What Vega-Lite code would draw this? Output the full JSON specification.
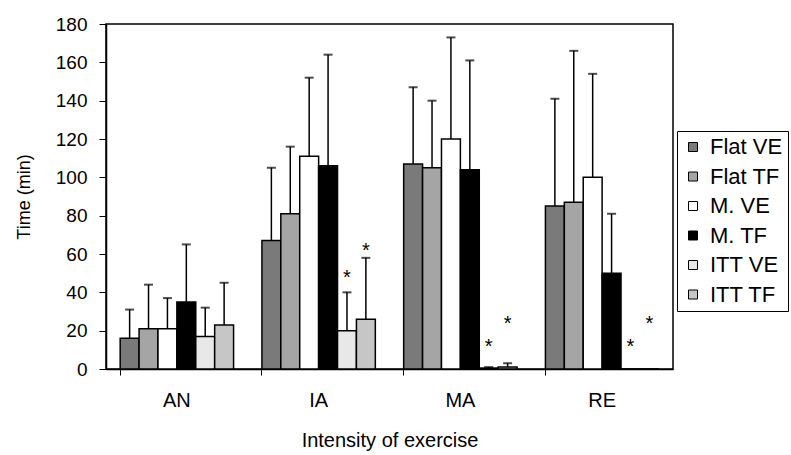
{
  "$schema": "https://vega.github.io/schema/vega-lite/v6.json",
  "width": 567,
  "height": 345,
  "autosize": "none",
  "padding": {"left": 106, "top": 24, "right": 118, "bottom": 86},
  "background": "white",
  "config": {
    "view": {"stroke": "black", "strokeWidth": 1.5},
    "font": "Liberation Sans"
  },
  "data": {
    "values": [
      {"group": "AN", "series": "Flat VE", "value": 16, "hi": 31},
      {"group": "AN", "series": "Flat TF", "value": 21, "hi": 44},
      {"group": "AN", "series": "M. VE", "value": 21, "hi": 37},
      {"group": "AN", "series": "M. TF", "value": 35, "hi": 65},
      {"group": "AN", "series": "ITT VE", "value": 17, "hi": 32},
      {"group": "AN", "series": "ITT TF", "value": 23, "hi": 45},
      {"group": "IA", "series": "Flat VE", "value": 67, "hi": 105},
      {"group": "IA", "series": "Flat TF", "value": 81, "hi": 116},
      {"group": "IA", "series": "M. VE", "value": 111, "hi": 152},
      {"group": "IA", "series": "M. TF", "value": 106, "hi": 164},
      {"group": "IA", "series": "ITT VE", "value": 20, "hi": 40, "star": 50},
      {"group": "IA", "series": "ITT TF", "value": 26, "hi": 58, "star": 64},
      {"group": "MA", "series": "Flat VE", "value": 107, "hi": 147},
      {"group": "MA", "series": "Flat TF", "value": 105, "hi": 140},
      {"group": "MA", "series": "M. VE", "value": 120, "hi": 173},
      {"group": "MA", "series": "M. TF", "value": 104, "hi": 161},
      {"group": "MA", "series": "ITT VE", "value": 0.5, "hi": 1, "star": 14},
      {"group": "MA", "series": "ITT TF", "value": 1, "hi": 3, "star": 26},
      {"group": "RE", "series": "Flat VE", "value": 85, "hi": 141},
      {"group": "RE", "series": "Flat TF", "value": 87, "hi": 166},
      {"group": "RE", "series": "M. VE", "value": 100, "hi": 154},
      {"group": "RE", "series": "M. TF", "value": 50, "hi": 81},
      {"group": "RE", "series": "ITT VE", "value": 0, "hi": 0, "star": 14},
      {"group": "RE", "series": "ITT TF", "value": 0, "hi": 0, "star": 26}
    ]
  },
  "encoding": {
    "x": {
      "field": "group",
      "type": "nominal",
      "sort": ["AN", "IA", "MA", "RE"],
      "scale": {"paddingInner": 0.2, "paddingOuter": 0.1},
      "axis": {
        "title": "Intensity of exercise",
        "titleFontSize": 20,
        "titleFontWeight": "normal",
        "titleColor": "black",
        "titlePadding": 20,
        "labelAngle": 0,
        "labelFontSize": 20,
        "labelColor": "black",
        "labelPadding": 15,
        "bandPosition": 0,
        "tickColor": "black",
        "tickSize": 6,
        "domainColor": "black",
        "domainWidth": 1.5,
        "grid": false
      }
    },
    "xOffset": {
      "field": "series",
      "type": "nominal",
      "sort": ["Flat VE", "Flat TF", "M. VE", "M. TF", "ITT VE", "ITT TF"],
      "scale": {"paddingInner": 0, "paddingOuter": 0}
    },
    "y": {
      "field": "value",
      "type": "quantitative",
      "scale": {"domain": [0, 180]},
      "axis": {
        "title": "Time (min)",
        "titleFontSize": 18,
        "titleFontWeight": "normal",
        "titleColor": "black",
        "titlePadding": 22,
        "values": [0, 20, 40, 60, 80, 100, 120, 140, 160, 180],
        "labelOverlap": false,
        "labelFontSize": 19,
        "labelColor": "black",
        "labelPadding": 12,
        "tickColor": "black",
        "tickSize": 7,
        "domainColor": "black",
        "domainWidth": 1.5,
        "grid": false
      }
    }
  },
  "layer": [
    {
      "mark": {"type": "rule", "color": "black", "strokeWidth": 1.5},
      "encoding": {
        "y2": {"field": "hi"}
      }
    },
    {
      "mark": {"type": "tick", "color": "black", "thickness": 2, "size": 9, "orient": "horizontal"},
      "transform": [{"filter": "datum.hi > datum.value"}],
      "encoding": {
        "y": {"field": "hi", "type": "quantitative"}
      }
    },
    {
      "mark": {"type": "bar", "stroke": "black", "strokeWidth": 1.5},
      "encoding": {
        "color": {
          "field": "series",
          "type": "nominal",
          "sort": ["Flat VE", "Flat TF", "M. VE", "M. TF", "ITT VE", "ITT TF"],
          "scale": {
            "domain": ["Flat VE", "Flat TF", "M. VE", "M. TF", "ITT VE", "ITT TF"],
            "range": ["#7a7a7a", "#a5a5a5", "#ffffff", "#000000", "#e8e8e8", "#c6c6c6"]
          },
          "legend": {
            "title": null,
            "orient": "none",
            "legendX": 571,
            "legendY": 107,
            "strokeColor": "black",
            "padding": 5,
            "symbolType": "square",
            "symbolSize": 81,
            "symbolStrokeColor": "black",
            "symbolStrokeWidth": 1,
            "symbolOpacity": 1,
            "labelFontSize": 22,
            "labelColor": "black",
            "labelOffset": 6,
            "rowPadding": 7.5,
            "labelLimit": 200
          }
        }
      }
    },
    {
      "mark": {"type": "text", "fontSize": 20, "color": "black", "baseline": "middle", "dy": 5},
      "transform": [{"filter": "isValid(datum.star)"}],
      "encoding": {
        "y": {"field": "star", "type": "quantitative"},
        "text": {"value": "*"}
      }
    }
  ]
}
